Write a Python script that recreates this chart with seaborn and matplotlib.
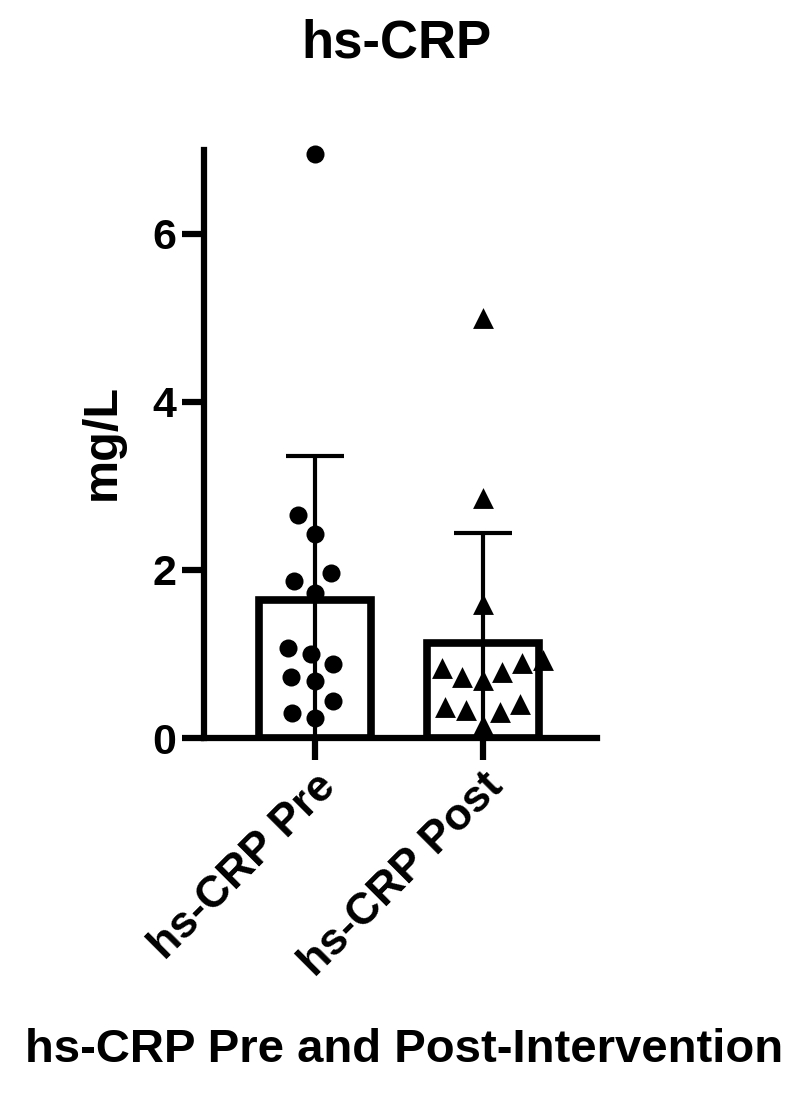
import numpy as np
import pandas as pd
import matplotlib
matplotlib.use("Agg")
import matplotlib.pyplot as plt
import seaborn as sns

# ---- data ----
categories = ["hs-CRP Pre", "hs-CRP Post"]
pre_values = [6.95, 2.65, 2.43, 1.96, 1.87, 1.73, 1.07, 1.00, 0.88, 0.73, 0.68, 0.44, 0.30, 0.24]
post_values = [5.00, 2.86, 1.60, 0.93, 0.89, 0.83, 0.79, 0.73, 0.69, 0.41, 0.37, 0.33, 0.31, 0.15]
y_ticks = [0, 2, 4, 6]
title = "hs-CRP"
x_label = "hs-CRP Pre and Post-Intervention"
y_label = "mg/L"

sns.set_style("ticks")
plt.rcParams["font.family"] = ["Liberation Sans", "DejaVu Sans"]
plt.rcParams["font.weight"] = "bold"
for k in ["text.color", "axes.labelcolor", "xtick.color", "ytick.color", "axes.edgecolor"]:
    plt.rcParams[k] = "black"

df = pd.DataFrame({
    "group": [categories[0]] * len(pre_values) + [categories[1]] * len(post_values),
    "value": pre_values + post_values,
})

fig = plt.figure(figsize=(8, 10.94), dpi=100)
ax = fig.add_axes([0.255, 0.3254, 0.491, 0.5376])

sns.barplot(data=df, x="group", y="value", order=categories, errorbar=None,
            width=0.667, color="white", edgecolor="black", linewidth=5.5,
            ax=ax, zorder=1)

means = np.array([np.mean(pre_values), np.mean(post_values)])
sds = np.array([np.std(pre_values, ddof=1), np.std(post_values, ddof=1)])
ax.errorbar([0, 1], means, yerr=[means, sds], fmt="none", ecolor="black",
            elinewidth=3, capsize=21, capthick=3, zorder=2)

ax.set_xlim(-0.66, 1.68)
ax.set_ylim(0, 7)

# swarm layout computed by seaborn with a wide spacing, then drawn with smaller markers
markers = ["o", "^"]
draw_sizes = [13, 15]
layout_sizes = [19, 17]
for cat, mk, ms, ls in zip(categories, markers, draw_sizes, layout_sizes):
    n_before = len(ax.collections)
    sns.swarmplot(data=df[df["group"] == cat], x="group", y="value", order=categories,
                  marker=mk, size=ls, color="black", linewidth=0, ax=ax, zorder=3)
    new_colls = list(ax.collections[n_before:])
    fig.canvas.draw()
    offs_list = [np.array(c.get_offsets()) for c in new_colls if len(c.get_offsets())]
    for c in new_colls:
        c.remove()
    offs = np.vstack(offs_list)
    ax.scatter(offs[:, 0], offs[:, 1], marker=mk, s=ms ** 2, color="black",
               linewidths=0, zorder=3, clip_on=False)

ax.set_xlim(-0.66, 1.68)
ax.set_ylim(0, 7)
ax.set_yticks(y_ticks)
ax.set_xlabel("")
ax.set_ylabel("")
sns.despine(ax=ax)
for s in ["left", "bottom"]:
    ax.spines[s].set_linewidth(4.5)
ax.tick_params(axis="both", length=16, width=4.5, labelsize=31, pad=4, colors="black")
for lab in ax.get_yticklabels():
    lab.set_fontweight("bold")
ax.set_xticks([0, 1])
ax.set_xticklabels(categories, rotation=45, ha="right", rotation_mode="anchor",
                   fontsize=32, fontweight="bold")

fig.text(396 / 800, 1 - 57 / 1094, title, ha="center", va="baseline",
         fontsize=38, fontweight="bold")
fig.text(404 / 800, 1 - 1062 / 1094, x_label, ha="center", va="baseline",
         fontsize=34, fontweight="bold")
fig.text(102 / 800, 1 - 442 / 1094, y_label, ha="center", va="center",
         rotation=90, fontsize=35, fontweight="bold")

fig.savefig("out.png", dpi=100)
